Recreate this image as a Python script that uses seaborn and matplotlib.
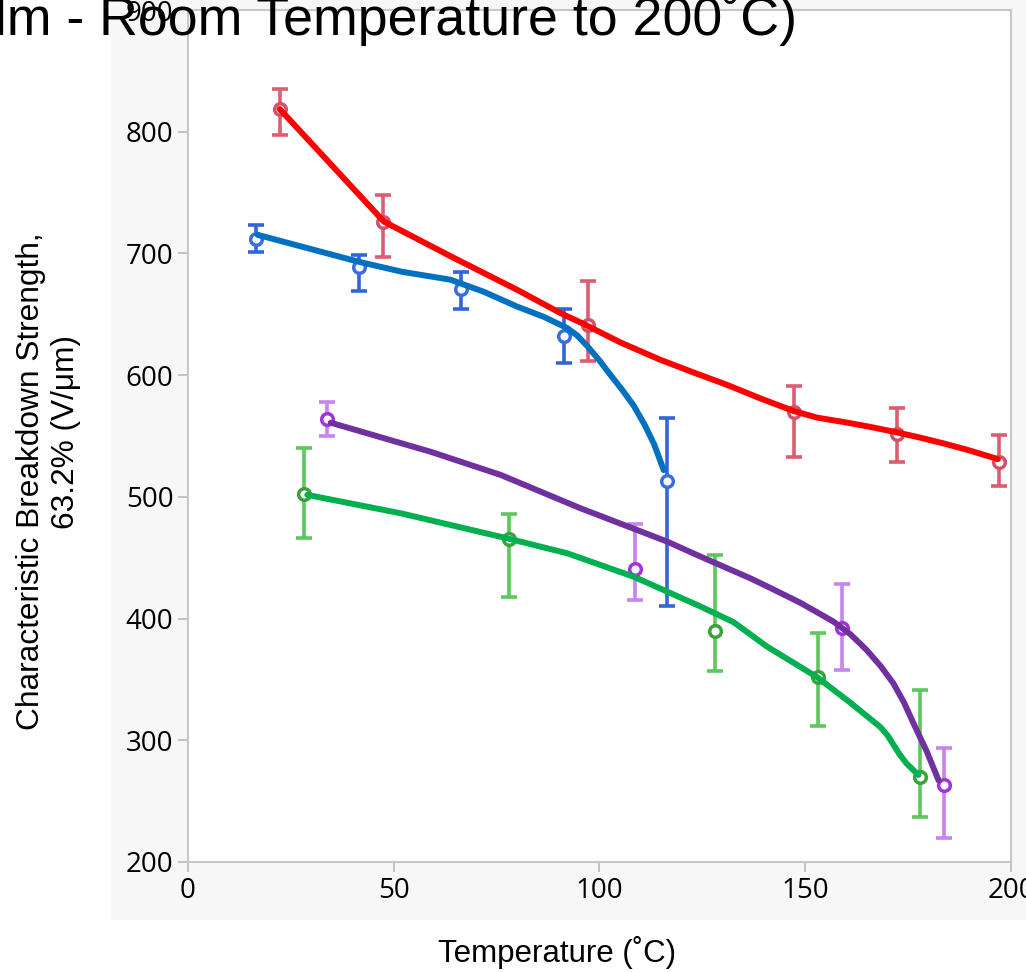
import matplotlib
matplotlib.use("Agg")
import matplotlib.pyplot as plt
import seaborn as sns
from matplotlib.patches import Rectangle
from matplotlib.ticker import MultipleLocator

# measured points (temperature, strength, error bar top/bottom)
red_t = [22.3, 47.5, 97.3, 147.2, 172.2, 197.0]
red_v = [818.6, 726.2, 641.5, 570.0, 552.0, 528.5]
red_hi = [835, 748, 677, 591, 573, 551]
red_lo = [797, 697, 612, 533, 529, 509]

blue_t = [16.5, 41.6, 66.4, 91.3, 116.4]
blue_v = [712.0, 688.7, 670.8, 632.3, 513.1]
blue_hi = [723, 699, 685, 654, 565]
blue_lo = [701, 669, 654, 610, 410]

purple_t = [33.9, 108.6, 158.9, 183.8]
purple_v = [563.8, 440.8, 392.0, 263.0]
purple_hi = [578, 477.5, 428, 294]
purple_lo = [550, 415, 358, 220]

green_t = [28.1, 78.1, 128.0, 153.0, 177.9]
green_v = [502.2, 465.1, 390.0, 351.7, 269.5]
green_hi = [540, 486, 452, 388, 341]
green_lo = [466, 417.5, 357, 312, 237]

# fitted curves
red_fit_t = [22.3, 47.6, 63.8, 80.0, 90.5, 96.2, 105.0, 114.8, 123.0, 131.0, 139.0, 147.2,
             153.0, 159.3, 165.0, 171.4, 177.5, 183.5, 189.0, 194.9, 196.8]
red_fit_v = [818.6, 726.2, 697.7, 670.1, 651.0, 642.0, 627.0, 612.6, 602.0, 592.0, 581.0, 570.5,
             565.0, 561.5, 558.0, 553.6, 549.0, 544.0, 539.0, 533.0, 531.0]

blue_fit_t = [16.9, 29.1, 41.2, 51.9, 63.8, 71.8, 80.0, 86.4, 92.2, 94.6, 97.0, 100.0,
              102.7, 105.5, 108.3, 111.0, 113.3, 115.6]
blue_fit_v = [715.3, 704.3, 693.4, 685.0, 678.4, 668.6, 656.3, 648.0, 638.6, 632.5, 624.0, 612.0,
              600.0, 588.0, 575.0, 559.0, 543.0, 522.0]

purple_fit_t = [34.7, 59.0, 76.0, 90.5, 95.4, 116.4, 124.5, 136.7, 140.7, 148.8, 156.9, 161.0,
                164.9, 168.3, 171.4, 174.0, 176.3, 179.5, 182.4]
purple_fit_v = [560.9, 537.0, 518.0, 497.5, 490.6, 463.3, 451.0, 433.0, 426.5, 413.0, 397.4, 387.0,
                374.2, 361.0, 346.8, 331.0, 313.9, 291.0, 267.0]

green_fit_t = [29.0, 51.7, 77.6, 92.2, 108.3, 124.5, 132.6, 140.7, 147.0, 152.8, 160.9, 168.2,
               170.0, 171.5, 173.0, 174.6, 177.5]
green_fit_v = [501.6, 486.5, 465.9, 453.6, 434.4, 410.0, 397.0, 377.0, 364.0, 352.0, 331.0, 311.0,
               304.0, 296.0, 288.0, 281.0, 271.5]

series = [
    # points, fit, bar colour, marker colour, line colour
    (red_t, red_v, red_hi, red_lo, red_fit_t, red_fit_v, "#dc5c70", "#d4506a", "#ff0000"),
    (blue_t, blue_v, blue_hi, blue_lo, blue_fit_t, blue_fit_v, "#3264dc", "#3a6ee0", "#0070c0"),
    (purple_t, purple_v, purple_hi, purple_lo, purple_fit_t, purple_fit_v, "#c884ee", "#a032e0", "#7030a0"),
    (green_t, green_v, green_hi, green_lo, green_fit_t, green_fit_v, "#5cc85c", "#38a438", "#00b050"),
]

sns.set_style("white")
plt.rcParams["font.family"] = ["Liberation Sans", "DejaVu Sans"]
plt.rcParams["text.color"] = "black"

fig = plt.figure(figsize=(10.26, 9.72), dpi=100)
fig.patch.set_facecolor("white")
# light grey panel behind the plot
fig.patches.append(Rectangle((0.1082, 0.0535), 0.8918, 0.9465, transform=fig.transFigure,
                             facecolor="#f7f7f7", edgecolor="none", zorder=-1))

ax = fig.add_axes([0.1832, 0.1132, 0.8022, 0.8765])
ax.set_facecolor("white")

for t, v, hi, lo, ft, fv, bar_c, mark_c, line_c in series:
    yerr = [[vv - l for vv, l in zip(v, lo)], [h - vv for vv, h in zip(v, hi)]]
    ax.errorbar(t, v, yerr=yerr, fmt="none", ecolor=bar_c, elinewidth=2.6,
                capsize=5.5, capthick=2.6, zorder=2)
    sns.scatterplot(x=t, y=v, ax=ax, marker="o", s=70, facecolor="white",
                    edgecolor=mark_c, linewidth=2.5, zorder=3)
    sns.lineplot(x=ft, y=fv, ax=ax, color=line_c, linewidth=4.3, sort=False,
                 estimator=None, zorder=4)

ax.set_xlim(0, 200)
ax.set_ylim(200, 900)
ax.xaxis.set_major_locator(MultipleLocator(50))
ax.xaxis.set_minor_locator(MultipleLocator(25))
ax.yaxis.set_major_locator(MultipleLocator(100))

for s in ax.spines.values():
    s.set_color("#c8c8c8")
    s.set_linewidth(1.5)

ax.tick_params(axis="both", which="major", direction="out", length=7, width=1.1,
               color="#b4b4b4", pad=3.5, labelsize=20, labelcolor="black")
ax.tick_params(axis="x", which="minor", direction="out", length=4, width=1.1, color="#b4b4b4")
ax.tick_params(axis="x", bottom=True)
ax.tick_params(axis="y", left=True)
for lab in ax.get_xticklabels() + ax.get_yticklabels():
    lab.set_family(["Open Sans", "DejaVu Sans"])

ax.set_xlabel("")
ax.set_ylabel("")

fig.text(0.5434, 0.0103, "Temperature (\u02daC)", ha="center", va="baseline", fontsize=22.5)
# y label, two lines placed as in the source
fig.text(0.030, 1 - 481 / 972, "Characteristic Breakdown Strength,", rotation=90,
         ha="center", va="center", fontsize=22.8)
fig.text(0.064, 1 - 432 / 972, "63.2% (V/\u03bcm)", rotation=90,
         ha="center", va="center", fontsize=22.8)

# title, cut off at the top left like the source
fig.text(797 / 1026, 1 - 35 / 972, "(Film - Room Temperature to 200\u02daC)", ha="right",
         va="baseline", fontsize=38.7, zorder=10)

fig.savefig("out.png", dpi=100, facecolor=fig.get_facecolor())
